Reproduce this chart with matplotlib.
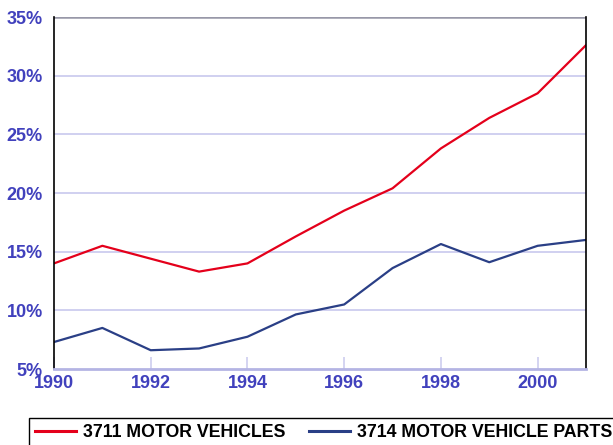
import numpy as np
import matplotlib.pyplot as plt
from matplotlib.patches import Rectangle
from matplotlib.ticker import FuncFormatter

# ============== chart data ==============
years = [1990, 1991, 1992, 1993, 1994, 1995, 1996, 1997, 1998, 1999, 2000, 2001]
motorVehicles = [14.0, 15.5, 14.4, 13.3, 14.0, 16.3, 18.5, 20.4, 23.8, 26.4, 28.5, 32.6]
vehicleParts = [7.3, 8.5, 6.6, 6.75, 7.75, 9.65, 10.5, 13.6, 15.65, 14.1, 15.5, 16.0]
seriesNames = ['3711 MOTOR VEHICLES', '3714 MOTOR VEHICLE PARTS']
yTicks = [5, 10, 15, 20, 25, 30, 35]
xTicks = [1990, 1992, 1994, 1996, 1998, 2000]
# =========================================

plt.rcParams['font.family'] = ['Liberation Sans', 'DejaVu Sans']
tickColor = '#4141bd'
gridColor = '#cdcdef'

fig = plt.figure(figsize=(6.13, 4.45), dpi=100)
ax = fig.add_axes([54/613, 1-369/445, (586-54)/613, (369-17)/445])

ax.plot(years, motorVehicles, color='#e4001b', lw=1.6, label=seriesNames[0])
ax.plot(years, vehicleParts, color='#2a3f86', lw=1.6, label=seriesNames[1])

ax.set_xlim(1990, 2001)
ax.set_ylim(5, 35)
ax.set_yticks(yTicks)
ax.set_xticks(xTicks)
ax.yaxis.set_major_formatter(FuncFormatter(lambda v, p: f'{v:.0f}%'))

for v in yTicks[1:-1]:
    ax.axhline(v, color=gridColor, lw=1.3, zorder=0)
ax.axhline(35, color='#9898a8', lw=1.8, zorder=0)

for s in ['left', 'right']:
    ax.spines[s].set_color('black')
    ax.spines[s].set_linewidth(1.2)
ax.spines['top'].set_visible(False)
ax.spines['bottom'].set_color('#b4b4e4')
ax.spines['bottom'].set_linewidth(2)

ax.tick_params(axis='y', length=0, pad=8, labelsize=13, labelcolor=tickColor)
ax.tick_params(axis='x', direction='in', length=9, width=1.2, color=gridColor,
               pad=4, labelsize=13, labelcolor=tickColor)
for lbl in ax.get_xticklabels() + ax.get_yticklabels():
    lbl.set_fontweight('bold')

# legend box runs off the right and bottom edge of the picture
fig.patches.append(Rectangle((29/613, -0.1), 1.0, 0.1 + 1 - 418/445,
                             transform=fig.transFigure, fill=False,
                             edgecolor='black', lw=1.0))
leg = fig.legend(loc='upper left', bbox_to_anchor=(29/613, 1-418/445),
                 ncol=2, frameon=False,
                 handlelength=2.3, handletextpad=0.4, columnspacing=1.3,
                 borderpad=0.35, borderaxespad=0,
                 prop={'weight': 'bold', 'size': 12.8})
for ln in leg.get_lines():
    ln.set_linewidth(2.2)

fig.savefig('out.png', dpi=100)
